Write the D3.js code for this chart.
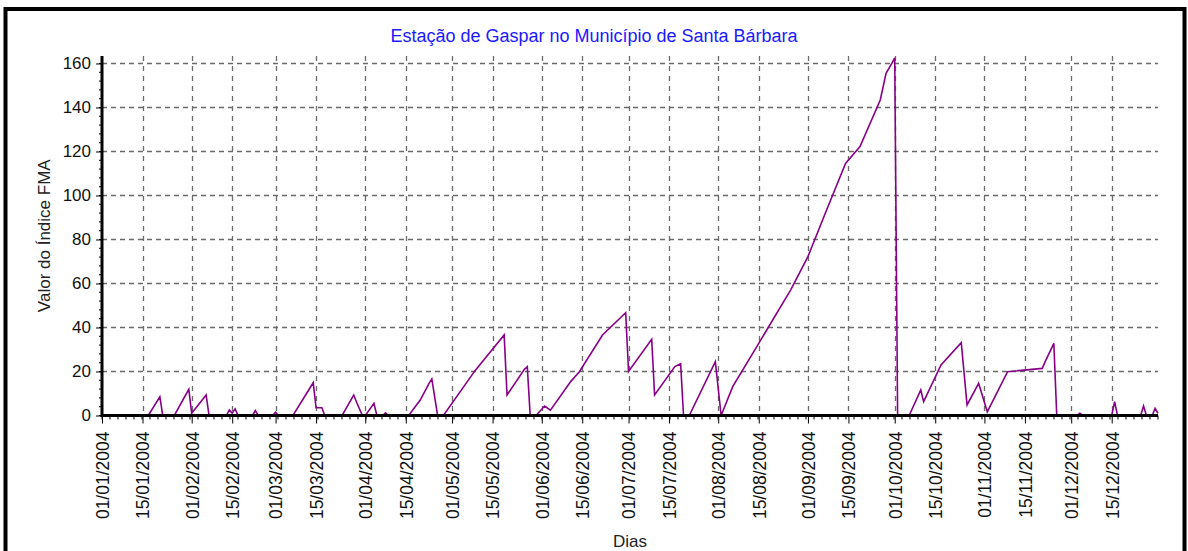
<!DOCTYPE html>
<html><head><meta charset="utf-8">
<script src="https://cdn.jsdelivr.net/npm/d3@7"></script>
<style>
body{margin:0;background:#fff}
svg{display:block}
text{font-family:"Liberation Sans",Arial,sans-serif}
</style>
</head><body>
<svg id="chart" width="1188" height="551"></svg>
<script>
const chartTitle = "Estação de Gaspar no Município de Santa Bárbara";
const xTitle = "Dias";
const yTitle = "Valor do Índice FMA";

const dates = [
"01/01/2004","17/01/2004","21/01/2004","22/01/2004","26/01/2004","31/01/2004",
"01/02/2004","06/02/2004","07/02/2004","13/02/2004","14/02/2004","15/02/2004","16/02/2004","17/02/2004",
"22/02/2004","23/02/2004","24/02/2004","29/02/2004",
"01/03/2004","02/03/2004","07/03/2004","14/03/2004","15/03/2004","17/03/2004","18/03/2004","24/03/2004","28/03/2004","29/03/2004","31/03/2004",
"01/04/2004","04/04/2004","05/04/2004","07/04/2004","08/04/2004","09/04/2004","16/04/2004","20/04/2004","23/04/2004","24/04/2004","26/04/2004","28/04/2004",
"09/05/2004","19/05/2004","20/05/2004","26/05/2004","27/05/2004","28/05/2004","30/05/2004",
"02/06/2004","04/06/2004","11/06/2004","14/06/2004","22/06/2004","30/06/2004",
"01/07/2004","09/07/2004","10/07/2004","17/07/2004","19/07/2004","20/07/2004","22/07/2004","31/07/2004",
"02/08/2004","06/08/2004","15/08/2004","26/08/2004",
"01/09/2004","07/09/2004","14/09/2004","19/09/2004","26/09/2004","28/09/2004","30/09/2004",
"01/10/2004","02/10/2004","06/10/2004","10/10/2004","11/10/2004","17/10/2004","24/10/2004","26/10/2004","30/10/2004",
"02/11/2004","09/11/2004","21/11/2004","22/11/2004","25/11/2004","26/11/2004",
"03/12/2004","04/12/2004","05/12/2004","15/12/2004","16/12/2004","17/12/2004","25/12/2004","26/12/2004","27/12/2004","29/12/2004","30/12/2004","31/12/2004"
];
const fma = [
0,0,8.5,0,0,11.9,
1,9.3,0,0,2.5,1,3,0,
0,2.2,0,0,
1.5,0,0,14.9,3.5,3.5,0,0,9.3,6,0,
0,5.5,0,0,1.2,0,0,7,14.5,16.6,0,0,
20.5,36.6,9.3,21,22.2,0,0,
4.3,2.4,15.4,19.9,36.6,46.7,
20,34.6,9.3,22.2,23.5,0,0,24.5,
0,13.1,32.8,57,
72.2,91.9,114.6,122.2,143.4,155.5,160,
162.5,0,0,11.6,6.3,23,33.1,4.8,14.6,
1.7,19.9,21.4,24.5,32.8,0,
0,1,0,0,6.3,0,0,4.3,0,0,3.3,1
];

const yTicks = [0,20,40,60,80,100,120,140,160];
const xTickLabels = [
"01/01/2004","15/01/2004","01/02/2004","15/02/2004","01/03/2004","15/03/2004",
"01/04/2004","15/04/2004","01/05/2004","15/05/2004","01/06/2004","15/06/2004",
"01/07/2004","15/07/2004","01/08/2004","15/08/2004","01/09/2004","15/09/2004",
"01/10/2004","15/10/2004","01/11/2004","15/11/2004","01/12/2004","15/12/2004"
];
const xDomain = ["01/01/2004","31/12/2004"];
const yMax = 163.4;

const parse = d3.timeParse("%d/%m/%Y");
const fmt = d3.timeFormat("%d/%m/%Y");
const data = dates.map((d,i)=>({date:parse(d), v:fma[i]}));

const L = 102, R = 1158, T = 56, B = 415.5;
const svg = d3.select("#chart");

// frame
svg.append("rect").attr("x",5.5).attr("y",9).attr("width",1179).attr("height",600)
  .attr("fill","#fff").attr("stroke","#000").attr("stroke-width",4);

const x = d3.scaleTime().domain(xDomain.map(parse)).range([L,R]);
const y = d3.scaleLinear().domain([0,yMax]).range([B,T]);
const xTicks = xTickLabels.map(parse);

// grid
const grid = svg.append("g");
grid.selectAll("line.h").data(yTicks.filter(v=>v>0)).join("line")
  .attr("x1",L).attr("x2",R).attr("y1",d=>y(d)).attr("y2",d=>y(d))
  .attr("stroke","#6a6a6a").attr("stroke-width",1.3).attr("stroke-dasharray","5,4");
grid.selectAll("line.v").data(xTicks.slice(1)).join("line")
  .attr("x1",d=>Math.round(x(d))+0.5).attr("x2",d=>Math.round(x(d))+0.5).attr("y1",T).attr("y2",B)
  .attr("stroke","#6a6a6a").attr("stroke-width",1.3).attr("stroke-dasharray","5,5");

// line
svg.append("path").datum(data)
  .attr("d", d3.line().x(d=>x(d.date)).y(d=>y(d.v)))
  .attr("fill","none").attr("stroke","#880088").attr("stroke-width",1.6);

// minor ticks
const minorX = d3.range(0,133).map(i=>L + i*(R-L)/132);
svg.append("g").selectAll("line").data(minorX).join("line")
  .attr("x1",d=>d).attr("x2",d=>d).attr("y1",B).attr("y2",B+4)
  .attr("stroke","#000").attr("stroke-width",1);
const minorY = d3.range(0,yMax,4);
svg.append("g").selectAll("line").data(minorY).join("line")
  .attr("x1",L-3).attr("x2",L).attr("y1",d=>y(d)).attr("y2",d=>y(d))
  .attr("stroke","#000").attr("stroke-width",1);

// y axis
const ya = svg.append("g").attr("transform",`translate(${L},0)`)
  .call(d3.axisLeft(y).tickValues(yTicks).tickSize(6).tickPadding(5));
ya.select(".domain").remove();
ya.selectAll("line").attr("stroke","#000");
ya.selectAll("text").attr("font-size",17).attr("fill","#111")
  .style("font-family",'"Liberation Sans",Arial,sans-serif');

// x axis
const xa = svg.append("g").attr("transform",`translate(0,${B})`)
  .call(d3.axisBottom(x).tickValues(xTicks).tickFormat(fmt).tickSize(8));
xa.select(".domain").remove();
xa.selectAll("line").attr("stroke","#000");
xa.selectAll("text").attr("font-size",17.5).attr("fill","#111")
  .style("font-family",'"Liberation Sans",Arial,sans-serif')
  .attr("transform","rotate(-90)").attr("text-anchor","end")
  .attr("x",-16).attr("y",0).attr("dy","0.36em");

// thick axis lines
svg.append("line").attr("x1",L).attr("x2",L).attr("y1",T).attr("y2",B+1.5)
  .attr("stroke","#000").attr("stroke-width",3);
svg.append("line").attr("x1",L).attr("x2",R).attr("y1",B).attr("y2",B)
  .attr("stroke","#000").attr("stroke-width",3);

// titles
svg.append("text").attr("x",594).attr("y",42).attr("text-anchor","middle")
  .attr("font-size",18).attr("fill","#1a1aff").text(chartTitle);
svg.append("text").attr("x",(L+R)/2).attr("y",547).attr("text-anchor","middle")
  .attr("font-size",17).attr("fill","#222").text(xTitle);
svg.append("text").attr("transform",`translate(50,${(T+B)/2}) rotate(-90)`)
  .attr("text-anchor","middle").attr("font-size",17).attr("fill","#222").text(yTitle);
</script>
</body></html>
